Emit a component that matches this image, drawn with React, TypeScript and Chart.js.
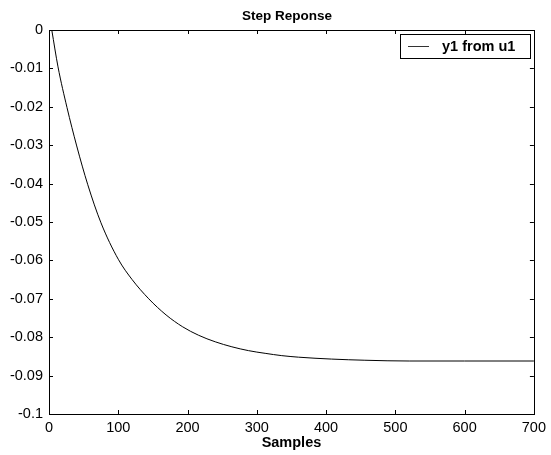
import React, { useEffect, useRef } from "react";
import { Chart, registerables } from "chart.js";

Chart.register(...registerables);

const samples = [4, 13, 26, 40, 56, 75, 100, 120, 144, 169, 193, 216, 240, 264, 288, 312, 336, 360, 408, 456, 520, 600, 700];
const values = [0, -0.0096, -0.0202, -0.0302, -0.0403, -0.0502, -0.0597, -0.065, -0.07, -0.0742, -0.0773, -0.0795, -0.0812, -0.0825, -0.0835, -0.0842, -0.0848, -0.0852, -0.0857, -0.086, -0.0862, -0.0862, -0.0862];

const titleText = "Step Reponse";
const xLabel = "Samples";
const seriesName = "y1 from u1";
const xTicks = [0, 100, 200, 300, 400, 500, 600, 700];
const yTicks = [0, -0.01, -0.02, -0.03, -0.04, -0.05, -0.06, -0.07, -0.08, -0.09, -0.1];

const FONT = "'Liberation Sans', Arial, Helvetica, sans-serif";

const decorPlugin = {
  id: "matlabDecor",
  afterDraw(chart: any) {
    const { ctx, chartArea } = chart;
    const { left, right, top, bottom } = chartArea;
    const xs = chart.scales.x;
    const ys = chart.scales.y;
    ctx.save();
    ctx.strokeStyle = "#000";
    ctx.lineWidth = 1;
    ctx.strokeRect(Math.round(left) + 0.5, Math.round(top) + 0.5, Math.round(right - left), Math.round(bottom - top));
    const tl = 4;
    ctx.beginPath();
    xTicks.forEach((v) => {
      const px = Math.round(xs.getPixelForValue(v)) + 0.5;
      ctx.moveTo(px, bottom);
      ctx.lineTo(px, bottom - tl);
      ctx.moveTo(px, top);
      ctx.lineTo(px, top + tl);
    });
    yTicks.forEach((v) => {
      const py = Math.round(ys.getPixelForValue(v)) + 0.5;
      ctx.moveTo(left, py);
      ctx.lineTo(left + tl, py);
      ctx.moveTo(right, py);
      ctx.lineTo(right - tl, py);
    });
    ctx.stroke();

    ctx.fillStyle = "#000";
    ctx.font = `bold 13.5px ${FONT}`;
    ctx.textAlign = "center";
    ctx.textBaseline = "alphabetic";
    ctx.fillText(titleText, 287, 20);

    const bx = 400.5, by = 34.5, bw = 130, bh = 24;
    ctx.fillStyle = "#fff";
    ctx.fillRect(bx, by, bw, bh);
    ctx.strokeStyle = "#000";
    ctx.strokeRect(bx, by, bw, bh);
    ctx.beginPath();
    ctx.strokeStyle = "#333";
    ctx.moveTo(408, 46.5);
    ctx.lineTo(429, 46.5);
    ctx.stroke();
    ctx.fillStyle = "#000";
    ctx.font = `bold 14.5px ${FONT}`;
    ctx.textAlign = "left";
    ctx.fillText(seriesName, 442, 51);
    ctx.restore();
  },
};

export default function App() {
  const ref = useRef<HTMLCanvasElement | null>(null);
  useEffect(() => {
    document.body.style.margin = "0";
    const canvas = ref.current;
    if (!canvas) return;
    const chart = new Chart(canvas, {
      type: "line",
      data: {
        datasets: [
          {
            label: seriesName,
            data: samples.map((s, i) => ({ x: s, y: values[i] })),
            borderColor: "#000",
            borderWidth: 1,
            pointRadius: 0,
            fill: false,
            cubicInterpolationMode: "monotone",
          },
        ],
      },
      options: {
        responsive: false,
        animation: false,
        devicePixelRatio: 1,
        layout: { padding: { top: 30, right: 15, left: 0, bottom: 0 } },
        plugins: {
          legend: { display: false },
          title: { display: false },
          tooltip: { enabled: false },
        },
        scales: {
          x: {
            type: "linear",
            min: 0,
            max: 700,
            afterBuildTicks: (scale: any) => {
              scale.ticks = xTicks.map((v) => ({ value: v }));
            },
            afterFit: (scale: any) => {
              scale.height = 41;
            },
            grid: { display: false, drawTicks: false },
            border: { display: false },
            ticks: {
              color: "#000",
              font: { family: FONT, size: 14.5 },
              padding: 5,
              maxRotation: 0,
              autoSkip: false,
            },
            title: {
              display: true,
              text: xLabel,
              color: "#000",
              font: { family: FONT, size: 14.5, weight: "bold" },
              padding: { top: 0, bottom: 3 },
            },
          },
          y: {
            type: "linear",
            min: -0.1,
            max: 0,
            afterBuildTicks: (scale: any) => {
              scale.ticks = yTicks.map((v) => ({ value: v }));
            },
            afterFit: (scale: any) => {
              scale.width = 49;
            },
            grid: { display: false, drawTicks: false },
            border: { display: false },
            ticks: {
              color: "#000",
              font: { family: FONT, size: 14.5 },
              padding: 6,
              autoSkip: false,
              callback: (v: any) => String(Number(Number(v).toFixed(2))),
            },
          },
        },
      },
      plugins: [decorPlugin],
    });
    return () => chart.destroy();
  }, []);
  return (
    <div style={{ width: 551, height: 455, background: "#fff" }}>
      <canvas ref={ref} width={551} height={455} style={{ display: "block" }} />
    </div>
  );
}
